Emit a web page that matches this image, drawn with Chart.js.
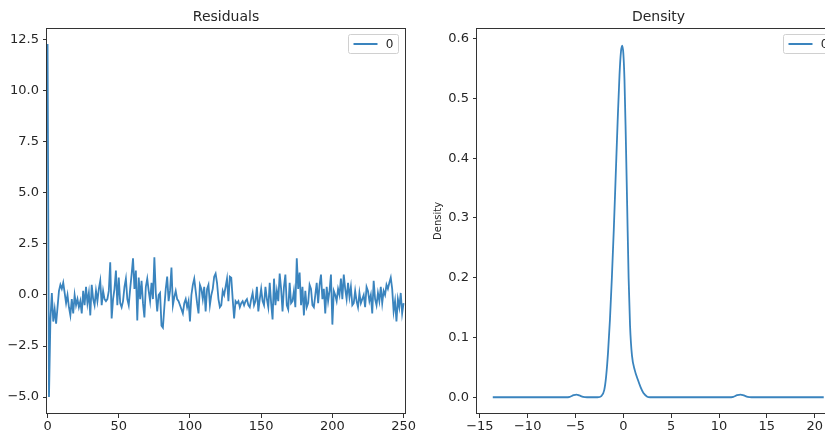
<!DOCTYPE html>
<html>
<head>
<meta charset="utf-8">
<script src="https://cdn.jsdelivr.net/npm/chart.js@4.4.0/dist/chart.umd.min.js"></script>
<style>
  html, body { margin: 0; padding: 0; background: #fff; width: 825px; height: 430px; overflow: hidden; position: relative; }
  canvas { position: absolute; top: 0; }
  #residChart { left: 0; }
  #densityChart { left: 412px; }
</style>
</head>
<body>
<canvas id="residChart" width="420" height="430"></canvas>
<canvas id="densityChart" width="429" height="430"></canvas>
<script>
// ==================== data ====================
const residuals = [
  12.3, -5.0, -1.2, 0.1, -1.3, -0.7, -1.4, -0.6, 0.2, 0.5,
  0.3, 0.6, 0.1, -0.4, 0.0, -0.6, -1.0, -0.2, -0.9, 0.0,
  -0.5, -0.2, -0.6, -0.3, -0.9, 0.2, -0.5, 0.4, -0.4, 0.1,
  -1.0, 0.5, -0.2, -0.5, 0.2, -0.3, 0.3, 0.7, -0.5, 0.2,
  -0.2, -0.3, -0.2, 0.2, 1.6, -1.15, -0.2, 0.3, 1.2, -0.5,
  0.85, -0.4, -0.6, -0.3, 0.4, 0.8, -0.2, -0.5, 0.3, 1.0,
  1.8, 0.3, 1.2, -1.25, 0.85, -0.2, 0.7, -0.4, -1.1, 0.4,
  0.8, 0.2, -0.3, 0.6, -0.2, 1.85, 0.1, -0.8, 0.0, 0.1,
  -1.5, -1.6, -0.6, 0.3, 0.9, -0.3, 0.2, 1.35, -0.5, -0.1,
  0.2, -0.2, -0.3, -0.5, -0.7, -0.9, -0.4, -0.2, -0.6, -0.3,
  -1.3, 0.0, 0.5, 0.8, 0.2, -0.4, -0.9, 0.5, 0.3, -0.2,
  0.4, -0.8, 0.3, 0.5, -0.5, 0.0, 0.3, 0.9, 1.05, 0.6,
  -0.2, -0.6, -0.5, 0.2, 0.0, 0.4, 0.8, -0.3, 0.9, 0.85,
  -0.2, -1.15, -0.3, -0.4, -0.3, -0.6, -0.4, -0.3, -0.5, -0.3,
  -0.2, -0.5, -0.6, -0.2, 0.1, -0.5, -0.3, 0.4, -0.8, -0.2,
  0.3, -0.3, -0.5, 0.4, -0.2, -0.6, 0.6, -0.4, -1.2, 0.8,
  -0.5, 0.2, -0.3, 1.05, 0.3, -0.8, 0.4, 1.0, -0.5, -0.7,
  0.6, -0.4, -0.3, 0.2, -0.6, 1.8, 0.3, 1.1, -0.5, 0.4,
  -1.0, 0.2, -0.6, -0.4, 0.5, 0.3, -0.5, -0.6, 0.0, 0.6,
  -0.4, 0.5, 1.0, -0.2, 0.3, -0.9, 0.4, -0.3, 0.2, 1.0,
  -1.45, 0.2, 0.0, -0.3, 0.3, 0.0, 0.8, -0.2, 1.0, 0.3,
  -0.2, 0.6, -0.1, 0.4, -0.5, -0.4, 0.2, -0.3, -0.6, 0.1,
  -0.4, -0.2, 0.0, -0.6, 0.4, 0.2, -0.3, 0.0, -0.9, 0.7,
  -0.2, -0.5, 0.1, -0.3, 0.4, -0.4, 0.2, 0.0, 0.5, 0.3,
  0.6, 0.85, 0.3, -0.8, -0.3, -1.3, -0.2, -0.6, 0.1, -0.9,
  -0.4
];

const densityX = [
  -13.65, -6.0, -5.6, -5.2, -4.9, -4.6, -4.2, -3.8,
  -2.7, -2.3, -2.0, -1.8, -1.6, -1.4, -1.2, -1.0, -0.8, -0.6, -0.4, -0.25, -0.12,
  0.0, 0.12, 0.25, 0.4, 0.55, 0.7, 0.9, 1.2, 1.5, 1.8, 2.1, 2.5, 2.8,
  11.0, 11.5, 11.9, 12.25, 12.6, 13.0, 13.4, 20.95
];
const densityY = [
  0, 0, 0.0008, 0.0035, 0.0045, 0.003, 0.0006, 0,
  0, 0.002, 0.012, 0.035, 0.075, 0.13, 0.2, 0.28, 0.37, 0.46, 0.54, 0.578, 0.588,
  0.575, 0.53, 0.44, 0.32, 0.2, 0.12, 0.07, 0.045, 0.03, 0.017, 0.007, 0.001, 0,
  0, 0.0008, 0.0035, 0.0045, 0.003, 0.0006, 0, 0
];

const seriesLabel = '0';
const residXTicks = [0, 50, 100, 150, 200, 250];
const residYTicks = [-5, -2.5, 0, 2.5, 5, 7.5, 10, 12.5];
const densityXTicks = [-15, -10, -5, 0, 5, 10, 15, 20];
const densityYTicks = [0, 0.1, 0.2, 0.3, 0.4, 0.5, 0.6];

// ==================== styles ====================
const LINE_COLOR = '#3a84be';
const AXIS_COLOR = '#333333';
const TEXT_COLOR = '#262626';
const FONT = 'DejaVu Sans';

function fmt(dec) {
  return v => Number(v).toFixed(dec).replace('-', '\u2212');
}

// frame on all four sides
const framePlugin = {
  id: 'frame',
  afterDraw(chart) {
    const { ctx, chartArea: a } = chart;
    ctx.save();
    ctx.strokeStyle = AXIS_COLOR;
    ctx.lineWidth = 1;
    ctx.strokeRect(Math.round(a.left) - 0.5, Math.round(a.top) + 0.5,
      Math.round(a.right - a.left) + 1, Math.round(a.bottom - a.top) - 1);
    ctx.restore();
  }
};

// legend drawn inside the axes, top right
const innerLegend = {
  id: 'innerLegend',
  afterDraw(chart) {
    const { ctx, chartArea: a } = chart;
    const ds = chart.data.datasets[0];
    const w = 50, h = 19;
    const x = Math.round(a.right) - w - 6.5, y = Math.round(a.top) + 6.5;
    ctx.save();
    ctx.fillStyle = 'rgba(255,255,255,0.85)';
    ctx.strokeStyle = '#d0d0d0';
    ctx.lineWidth = 1;
    ctx.beginPath();
    ctx.roundRect(x, y, w, h, 2);
    ctx.fill();
    ctx.stroke();
    ctx.strokeStyle = ds.borderColor;
    ctx.lineWidth = 2;
    ctx.beginPath();
    ctx.moveTo(x + 5, y + h / 2);
    ctx.lineTo(x + 29, y + h / 2);
    ctx.stroke();
    ctx.fillStyle = TEXT_COLOR;
    ctx.font = '12px "' + FONT + '"';
    ctx.textAlign = 'center';
    ctx.textBaseline = 'middle';
    ctx.fillText(ds.label, x + 41, y + h / 2 + 0.5);
    ctx.restore();
  }
};

function axis(min, max, ticksArr, decimals, fixedSize, isX, extra) {
  const s = {
    type: 'linear',
    min: min,
    max: max,
    afterBuildTicks: scale => { scale.ticks = ticksArr.map(v => ({ value: v })); },
    grid: { display: true, drawOnChartArea: false, drawTicks: true, tickLength: 4, color: AXIS_COLOR, tickColor: AXIS_COLOR },
    border: { display: false },
    ticks: {
      autoSkip: false,
      maxRotation: 0,
      padding: isX ? 1 : 4,
      color: TEXT_COLOR,
      font: { family: FONT, size: 13 },
      callback: fmt(decimals)
    },
    afterFit: scale => {
      if (isX) scale.height = fixedSize; else scale.width = fixedSize;
    }
  };
  return Object.assign(s, extra || {});
}

function titleOpts(text) {
  return {
    display: true,
    text: text,
    fullSize: false,
    color: TEXT_COLOR,
    font: { family: FONT, size: 14, weight: 'normal', lineHeight: 1.2 },
    padding: { top: 9, bottom: 2 }
  };
}

// ==================== residuals ====================
function renderResiduals() {
  const ctx = document.getElementById('residChart').getContext('2d');
  new Chart(ctx, {
    type: 'line',
    data: {
      datasets: [{
        label: seriesLabel,
        data: residuals.map((v, i) => ({ x: i, y: v })),
        borderColor: LINE_COLOR,
        borderWidth: 1.8,
        pointRadius: 0,
        tension: 0,
        fill: false
      }]
    },
    options: {
      responsive: false,
      animation: false,
      layout: { padding: { left: 0, right: 15, top: 0, bottom: 0 } },
      plugins: {
        legend: { display: false },
        tooltip: { enabled: false },
        title: titleOpts('Residuals')
      },
      scales: {
        x: axis(-0.4, 251, residXTicks, 0, 16, true),
        y: axis(-5.83, 13.09, residYTicks, 1, 47, false)
      }
    },
    plugins: [framePlugin, innerLegend]
  });
}

// ==================== density ====================
function renderDensity() {
  const ctx = document.getElementById('densityChart').getContext('2d');
  new Chart(ctx, {
    type: 'line',
    data: {
      datasets: [{
        label: seriesLabel,
        data: densityX.map((x, i) => ({ x: x, y: densityY[i] })),
        borderColor: LINE_COLOR,
        borderWidth: 1.8,
        pointRadius: 0,
        cubicInterpolationMode: 'monotone',
        fill: false
      }]
    },
    options: {
      responsive: false,
      animation: false,
      layout: { padding: { left: 0, right: 1, top: 0, bottom: 0 } },
      plugins: {
        legend: { display: false },
        tooltip: { enabled: false },
        title: titleOpts('Density')
      },
      scales: {
        x: axis(-15.3, 22.65, densityXTicks, 0, 16, true),
        y: axis(-0.028, 0.618, densityYTicks, 1, 65, false, {
          title: {
            display: true,
            text: 'Density',
            color: TEXT_COLOR,
            font: { family: FONT, size: 10, lineHeight: 1.2 },
            padding: { top: 20, bottom: 0 }
          }
        })
      }
    },
    plugins: [framePlugin, innerLegend]
  });
}

renderResiduals();
renderDensity();
</script>
</body>
</html>
